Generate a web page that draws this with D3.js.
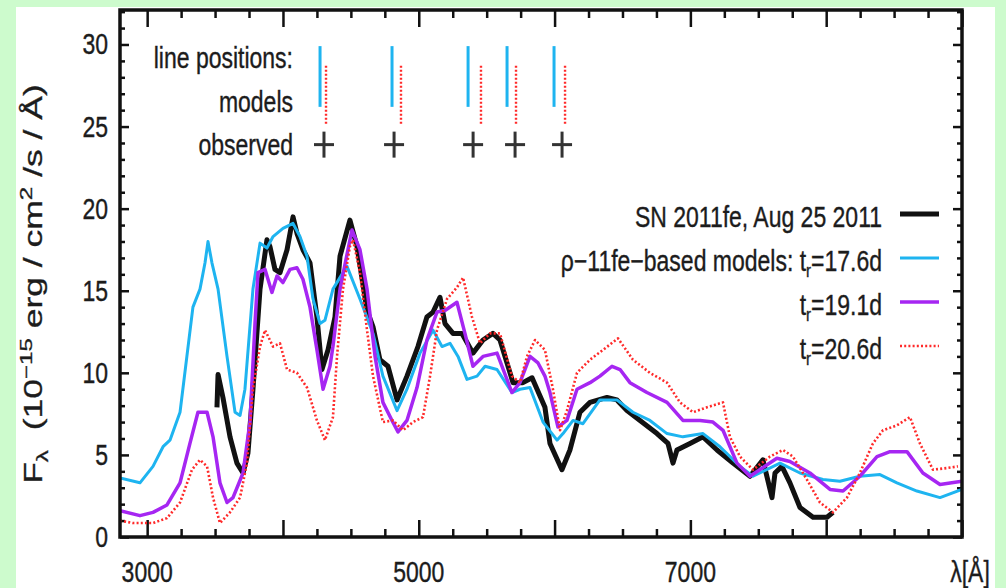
<!DOCTYPE html>
<html><head><meta charset="utf-8">
<script src="https://cdn.jsdelivr.net/npm/d3@7"></script>
<style>
body{margin:0;background:#cdfbcd}
text{font-family:"Liberation Sans",Arial,sans-serif;fill:#1c1c1c;stroke:#1c1c1c;stroke-width:0.3;white-space:pre}
</style>
</head><body><svg width="1006" height="588"></svg>
<script>
// observed spectrum, SN 2011fe Aug 25 2011  [lambda, flux]
var observed = [[3514,7.9],[3522,9.9],[3558,8.5],[3610,6.1],[3661,4.5],[3706,3.9],[3742,5.1],[3779,9.0],[3831,15.1],[3882,18.1],[3904,17.7],[3941,16.3],[3978,16.1],[4030,17.5],[4074,19.5],[4103,18.5],[4147,17.5],[4199,16.7],[4250,13.4],[4287,10.2],[4332,11.4],[4383,13.4],[4420,17.1],[4493,19.3],[4545,17.7],[4619,13.8],[4663,12.8],[4714,10.8],[4773,10.4],[4840,8.35],[4913,9.8],[4994,11.6],[5060,13.4],[5105,13.7],[5156,14.6],[5193,13.0],[5252,12.4],[5318,12.4],[5399,11.2],[5473,12.0],[5546,12.4],[5598,12.0],[5694,9.4],[5767,9.4],[5834,9.7],[5929,7.9],[5966,5.7],[6054,4.1],[6113,5.3],[6187,7.6],[6261,8.2],[6386,8.5],[6459,8.35],[6533,7.7],[6629,7.1],[6754,6.3],[6835,5.7],[6872,4.5],[6901,5.3],[6997,5.7],[7093,6.1],[7196,5.3],[7314,4.5],[7439,3.7],[7534,4.7],[7601,2.4],[7623,3.9],[7674,4.3],[7733,3.3],[7807,1.8],[7903,1.2],[8006,1.2],[8050,1.5]];

// model t_r = 17.6d
var model176 = [[2800,3.6],[2947,3.3],[3043,4.3],[3117,5.5],[3168,5.9],[3242,7.6],[3337,14.0],[3389,15.1],[3426,16.7],[3448,18.0],[3477,16.7],[3522,15.1],[3588,11.0],[3647,7.6],[3684,7.4],[3720,9.0],[3779,15.1],[3831,17.9],[3882,17.6],[3927,18.3],[4000,18.8],[4074,19.1],[4125,18.3],[4177,17.1],[4221,14.5],[4273,13.0],[4309,13.2],[4368,15.1],[4471,16.5],[4567,14.5],[4663,12.4],[4736,9.8],[4840,7.7],[4913,9.0],[5009,11.2],[5105,12.6],[5171,11.6],[5230,11.8],[5289,11.0],[5355,9.6],[5429,9.8],[5488,10.4],[5576,10.2],[5686,8.8],[5745,9.0],[5819,9.1],[5915,7.0],[6018,5.9],[6062,6.3],[6136,7.1],[6209,6.9],[6334,8.35],[6459,8.35],[6577,7.6],[6702,7.1],[6828,6.3],[6945,6.1],[7093,6.3],[7218,5.5],[7365,4.3],[7461,3.7],[7660,4.5],[7807,3.9],[7976,3.5],[8101,3.4],[8248,3.7],[8396,3.8],[8521,3.3],[8668,2.8],[8838,2.4],[9000,2.9]];

// model t_r = 19.1d
var model191 = [[2800,1.6],[2947,1.3],[3043,1.5],[3146,1.95],[3242,3.3],[3315,5.7],[3374,7.6],[3441,7.6],[3485,6.1],[3536,3.3],[3588,2.1],[3632,2.4],[3706,3.9],[3757,7.0],[3794,13.0],[3816,16.1],[3868,16.3],[3919,14.9],[3956,15.9],[4000,15.5],[4052,16.3],[4103,16.4],[4147,15.7],[4199,14.0],[4250,11.4],[4295,9.0],[4346,10.4],[4368,11.6],[4420,15.1],[4508,18.7],[4567,17.5],[4619,15.1],[4678,11.0],[4736,8.2],[4803,7.1],[4847,6.4],[4913,7.1],[4987,9.1],[5060,12.0],[5134,13.7],[5193,13.8],[5281,14.3],[5340,12.4],[5399,10.4],[5473,11.0],[5576,11.2],[5686,8.8],[5745,9.4],[5819,11.0],[5878,10.6],[5929,9.8],[5966,8.8],[6025,6.7],[6091,7.1],[6165,9.0],[6261,9.4],[6334,9.8],[6423,10.4],[6482,10.2],[6555,9.4],[6680,8.8],[6828,8.2],[6945,7.1],[7071,7.1],[7166,7.0],[7240,6.5],[7343,4.5],[7439,3.7],[7637,4.8],[7733,4.6],[7880,3.9],[8028,2.9],[8124,2.8],[8248,3.7],[8374,4.9],[8470,5.2],[8595,5.2],[8712,3.9],[8838,3.2],[9000,3.4]];

// model t_r = 20.6d
var model206 = [[2800,1.0],[2896,0.85],[3043,0.85],[3146,1.15],[3242,2.1],[3330,4.1],[3389,4.7],[3441,4.3],[3485,2.4],[3536,0.85],[3610,1.5],[3684,2.4],[3735,4.5],[3779,9.0],[3831,11.6],[3868,12.6],[3927,11.6],[3978,11.8],[4030,10.2],[4103,10.0],[4177,9.1],[4250,7.1],[4309,5.9],[4368,7.3],[4398,11.0],[4442,15.1],[4493,17.7],[4516,18.1],[4567,16.1],[4619,12.6],[4663,9.8],[4736,7.0],[4810,7.1],[4884,6.5],[4957,7.0],[5031,7.3],[5083,9.8],[5134,12.6],[5208,14.5],[5281,15.2],[5326,15.8],[5392,13.4],[5451,11.8],[5524,12.4],[5598,12.4],[5686,9.8],[5745,9.4],[5797,11.0],[5856,12.0],[5929,11.4],[5988,9.0],[6040,6.5],[6091,7.7],[6165,10.0],[6261,10.8],[6357,11.4],[6467,12.1],[6577,10.8],[6702,10.0],[6828,9.4],[6923,8.2],[7019,7.6],[7122,7.9],[7240,8.2],[7291,6.1],[7365,4.9],[7461,4.1],[7586,4.9],[7682,5.3],[7755,4.9],[7858,3.5],[7954,2.1],[8050,1.5],[8153,2.4],[8248,3.9],[8344,5.7],[8418,6.5],[8521,6.8],[8617,7.3],[8690,5.7],[8786,4.1],[8889,4.2],[8970,4.3]];

// line position markers (Angstrom)
var modelLines = [4273, 4803, 5363, 5650, 5996];
var modelLines2 = [4317, 4869, 5458, 5716, 6077];
var observedLines = [4302, 4818, 5400, 5709, 6055];

var xMajor = [3000, 4000, 5000, 6000, 7000, 8000, 9000];
var xLabels = [3000, 5000, 7000];
var yMajor = [0, 5, 10, 15, 20, 25, 30];

var svg = d3.select("svg");

var pL = 120, pR = 962, pT = 10, pB = 537;

var x = d3.scaleLinear().domain([2800, 9000]).range([pL, pR]);
var y = d3.scaleLinear().domain([0, 32.1]).range([pB, pT]);

svg.append("rect").attr("x", 16).attr("y", 7).attr("width", 979).attr("height", 581).attr("fill", "#fff");

var xMinor = d3.range(3000, 9001, 250).filter(function(d) { return d % 1000 != 0; });
var yMinor = d3.range(1, 33, 1).filter(function(d) { return d % 5 != 0; });

function ticks(axis, tx, ty) {
  var g = svg.append("g").attr("transform", "translate(" + tx + "," + ty + ")").call(axis.tickFormat(""));
  g.select(".domain").remove();
  g.selectAll("line").attr("stroke", "#111").attr("stroke-width", 2.5);
}
ticks(d3.axisBottom(x).tickValues(xMinor).tickSize(-8), 0, pB);
ticks(d3.axisBottom(x).tickValues(xMajor).tickSize(-17), 0, pB);
ticks(d3.axisTop(x).tickValues(xMinor).tickSize(-8), 0, pT);
ticks(d3.axisTop(x).tickValues(xMajor).tickSize(-17), 0, pT);
ticks(d3.axisLeft(y).tickValues(yMinor).tickSize(-5), pL, 0);
ticks(d3.axisLeft(y).tickValues(yMajor).tickSize(-9), pL, 0);
ticks(d3.axisRight(y).tickValues(yMinor).tickSize(-5), pR, 0);
ticks(d3.axisRight(y).tickValues(yMajor).tickSize(-9), pR, 0);

function label(px, py, str, anchor, size) {
  return svg.append("text")
    .attr("transform", "translate(" + px + "," + py + ") scale(1,1.25)")
    .attr("text-anchor", anchor)
    .style("font-size", size + "px")
    .text(str);
}

yMajor.forEach(function(d) { label(108, y(d) + 10, String(d), "end", 23); });
xLabels.forEach(function(d) { label(x(d), 582, String(d), "middle", 23); });
label(x(9000) + 8, 582, "λ[Å]", "middle", 23);

// y axis title
var yt = svg.append("text")
  .attr("transform", "translate(42,284) rotate(-90) scale(1.42,1)")
  .attr("text-anchor", "middle")
  .style("font-size", "25px");
yt.append("tspan").text("F");
yt.append("tspan").attr("dy", 6).style("font-size", "17px").text("λ");
yt.append("tspan").attr("dy", -6).text("  (10");
yt.append("tspan").attr("dy", -10).style("font-size", "17px").text("−15");
yt.append("tspan").attr("dy", 10).text(" erg / cm");
yt.append("tspan").attr("dy", -10).style("font-size", "17px").text("2");
yt.append("tspan").attr("dy", 10).text(" /s / Å)");

// spectra
svg.append("clipPath").attr("id", "plot").append("rect")
  .attr("x", pL).attr("y", pT).attr("width", pR - pL).attr("height", pB - pT);

var line = d3.line().x(function(d) { return x(d[0]); }).y(function(d) { return y(d[1]); });

var series = [
  {data: observed, color: "#111", width: 5, dash: null},
  {data: model176, color: "#1eb4f0", width: 3, dash: null},
  {data: model191, color: "#a626f2", width: 3.5, dash: null},
  {data: model206, color: "#ff2a2a", width: 2.6, dash: "2,2.2"}
];

var plot = svg.append("g").attr("clip-path", "url(#plot)");
series.forEach(function(s) {
  plot.append("path").datum(s.data)
    .attr("d", line)
    .attr("fill", "none")
    .attr("stroke", s.color)
    .attr("stroke-width", s.width)
    .attr("stroke-linejoin", "round")
    .attr("stroke-dasharray", s.dash);
});

// frame
svg.append("rect").attr("x", pL).attr("y", pT).attr("width", pR - pL).attr("height", pB - pT)
  .attr("fill", "none").attr("stroke", "#111").attr("stroke-width", 3.5);

// line positions legend (top left)
label(293, 68, "line positions:", "end", 23);
label(293, 112, "models", "end", 23);
label(293, 155, "observed", "end", 23);

svg.selectAll(".ml").data(modelLines).enter().append("line")
  .attr("x1", function(d) { return x(d); }).attr("x2", function(d) { return x(d); })
  .attr("y1", y(29.9)).attr("y2", y(26.2))
  .attr("stroke", series[1].color).attr("stroke-width", 3);
svg.selectAll(".ml2").data(modelLines2).enter().append("line")
  .attr("x1", function(d) { return x(d); }).attr("x2", function(d) { return x(d); })
  .attr("y1", y(28.7)).attr("y2", y(25.1))
  .attr("stroke", series[3].color).attr("stroke-width", 2.4).attr("stroke-dasharray", "2,2");
var plus = svg.selectAll(".ob").data(observedLines).enter().append("g")
  .attr("transform", function(d) { return "translate(" + x(d) + "," + y(23.9) + ")"; });
plus.append("line").attr("x1", -10).attr("x2", 10).attr("stroke", "#333").attr("stroke-width", 3);
plus.append("line").attr("y1", -13).attr("y2", 13).attr("stroke", "#333").attr("stroke-width", 3);

// series legend (right)
var legY = [214, 258, 302, 346];
label(882, legY[0] + 13, "SN 2011fe, Aug 25 2011", "end", 23);
var t2 = label(882, legY[1] + 13, "ρ−11fe−based models: t", "end", 23);
t2.append("tspan").attr("dy", 5).style("font-size", "15px").text("r");
t2.append("tspan").attr("dy", -5).text("=17.6d");
var t3 = label(882, legY[2] + 13, "t", "end", 23);
t3.append("tspan").attr("dy", 5).style("font-size", "15px").text("r");
t3.append("tspan").attr("dy", -5).text("=19.1d");
var t4 = label(882, legY[3] + 13, "t", "end", 23);
t4.append("tspan").attr("dy", 5).style("font-size", "15px").text("r");
t4.append("tspan").attr("dy", -5).text("=20.6d");

series.forEach(function(s, i) {
  svg.append("line").attr("x1", 900).attr("x2", 939).attr("y1", legY[i]).attr("y2", legY[i])
    .attr("stroke", s.color).attr("stroke-width", s.width).attr("stroke-dasharray", s.dash);
});
</script></body></html>
